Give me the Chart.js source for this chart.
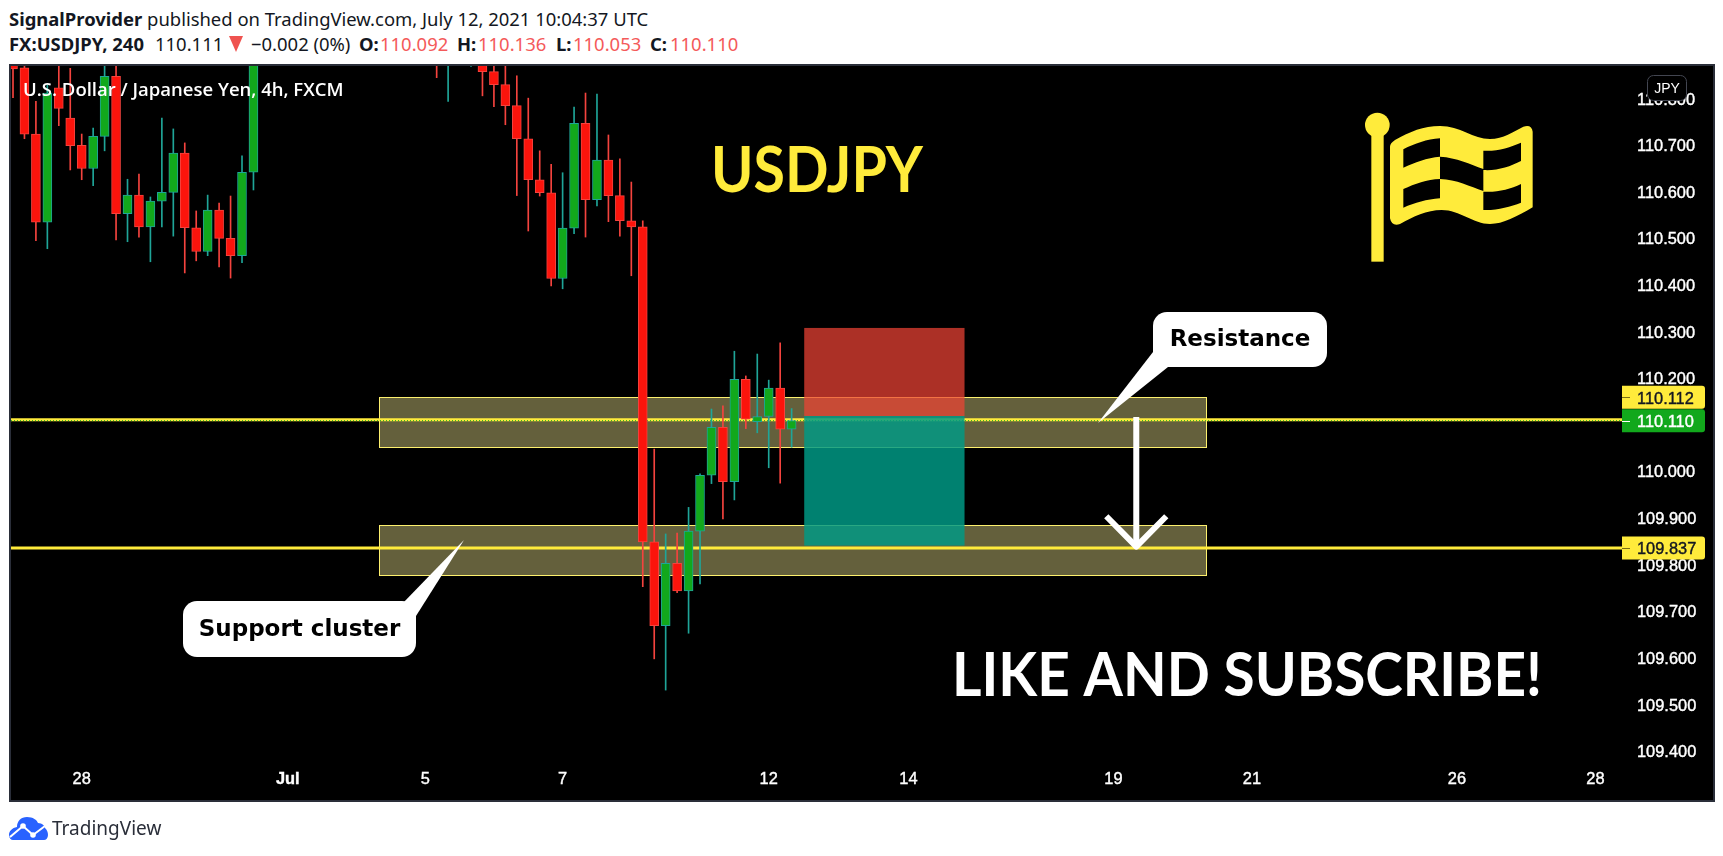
<!DOCTYPE html>
<html>
<head>
<meta charset="utf-8">
<title>USDJPY</title>
<script src="https://cdn.jsdelivr.net/npm/chart.js@4"></script>
<style>
html, body { margin: 0; padding: 0; background: #fff; }
body { width: 1723px; height: 856px; position: relative; overflow: hidden; font-family: "Noto Sans", sans-serif; color: #131722; }
#frame { position: absolute; left: 9px; top: 64px; width: 1702px; height: 734px; background: #000; border: 2px solid #2a2e39; }
#grafico { position: absolute; left: 0; top: 0; }
.riga { position: absolute; left: 9px; font-size: 18.45px; white-space: nowrap; line-height: 24px; }
.riga b { font-weight: 700; }
.t { position: absolute; top: 32px; font-size: 18.45px; line-height: 24px; white-space: nowrap; }
.b { font-weight: 700; }
.rosso { color: #f45a5a; }
#triangolo { position: absolute; left: 229px; top: 36px; width: 0; height: 0; border-left: 7.5px solid transparent; border-right: 7.5px solid transparent; border-top: 16px solid #ef5350; }
#logo { position: absolute; left: 9px; top: 817px; }
#marchio { position: absolute; left: 52px; top: 815px; font-size: 19px; line-height: 26px; color: #2a2e39; }
</style>
</head>
<body>
<div class="riga" style="top:7px"><b>SignalProvider</b> published on TradingView.com, July 12, 2021 10:04:37 UTC</div>
<span class="t b" style="left:9px">FX:USDJPY, 240</span>
<span class="t" style="left:155px">110.111</span>
<span id="triangolo"></span>
<span class="t" style="left:251px">−0.002 (0%)</span>
<span class="t b" style="left:359px">O:</span><span class="t rosso" style="left:380px">110.092</span>
<span class="t b" style="left:457px">H:</span><span class="t rosso" style="left:478px">110.136</span>
<span class="t b" style="left:556px">L:</span><span class="t rosso" style="left:573px">110.053</span>
<span class="t b" style="left:650px">C:</span><span class="t rosso" style="left:670px">110.110</span>
<div id="frame"></div>
<canvas id="grafico" width="1723" height="856"></canvas>
<svg id="logo" width="39" height="23" viewBox="0 0 39 23">
	<path d="M0 18 C0 14 3 11 8 10 C8 4 12 0 18 0 C24 0 28 3 29 6 C33 6 36 9 36 11 C38 13 39 15 39 18 C39 21 37 23 35 23 L4 23 C2 23 0 21 0 18 Z" fill="#2962ff"/>
	<polyline points="1,20 14,9 24,18 36,9" fill="none" stroke="#fff" stroke-width="2"/>
	<circle cx="14" cy="9" r="2.8" fill="#fff"/>
	<circle cx="24" cy="18" r="2.8" fill="#fff"/>
</svg>
<div id="marchio">TradingView</div>

<script>
// indici delle candele visibili (le altre stanno sopra il grafico)
var barIndex = [0,1,2,3,4,5,6,7,8,9,10,11,12,13,14,15,16,17,18,19,20,21,37,38,40,41,42,43,44,45,46,47,48,49,50,51,52,53,54,55,56,57,58,59,60,61,62,63,64,65,66,67,68];
var opens  = [110.900,110.867,110.725,110.536,110.824,110.759,110.701,110.651,110.720,110.849,110.554,110.594,110.526,110.581,110.600,110.684,110.524,110.473,110.562,110.501,110.464,110.643,111.000,110.950,110.950,110.900,110.859,110.831,110.786,110.715,110.627,110.599,110.415,110.523,110.748,110.584,110.669,110.593,110.539,110.526,109.850,109.670,109.804,109.745,109.873,109.993,110.096,109.979,110.199,110.108,110.119,110.180,110.092];
var closes = [110.865,110.725,110.536,110.813,110.780,110.700,110.651,110.720,110.849,110.554,110.594,110.526,110.581,110.600,110.684,110.524,110.473,110.562,110.501,110.464,110.643,110.900,110.950,111.000,111.000,110.859,110.831,110.786,110.715,110.627,110.599,110.415,110.523,110.748,110.584,110.669,110.593,110.539,110.526,109.850,109.670,109.804,109.745,109.873,109.993,110.096,109.979,110.199,110.113,110.119,110.180,110.092,110.110];
var highs  = [110.920,110.873,110.795,110.830,110.880,110.866,110.725,110.738,110.890,110.890,110.628,110.639,110.590,110.759,110.736,110.706,110.560,110.594,110.577,110.592,110.678,110.920,111.020,111.020,111.020,110.950,110.900,110.880,110.850,110.802,110.689,110.660,110.642,110.783,110.813,110.811,110.723,110.672,110.622,110.539,110.049,109.867,109.869,109.924,109.996,110.135,110.142,110.259,110.206,110.253,110.197,110.277,110.136];
var lows   = [110.803,110.715,110.496,110.479,110.743,110.648,110.627,110.614,110.689,110.498,110.494,110.504,110.451,110.526,110.506,110.427,110.453,110.464,110.440,110.416,110.449,110.605,110.846,110.795,110.870,110.807,110.784,110.745,110.593,110.517,110.592,110.399,110.393,110.511,110.504,110.571,110.537,110.506,110.421,109.754,109.599,109.532,109.741,109.654,109.760,109.975,109.899,109.940,110.093,110.084,110.009,109.976,110.053];

var priceTicks = [109.4,109.5,109.6,109.7,109.8,109.9,110.0,110.1,110.2,110.3,110.4,110.5,110.6,110.7,110.8];
var timeTickIndex = [6,24,36,48,66,78.2,96.1,108.2,126.1,138.2];
var timeTickLabels = ['28','Jul','5','7','12','14','19','21','26','28'];

var resistanceLine = 110.112;
var supportLine = 109.837;
var lastPrice = 110.110;
var zones = [[110.160,110.053],[109.886,109.778]];
var zoneFrom = 32.0;
var zoneTo = 104.2;
var boxFrom = 69.1;
var boxTo = 83.1;
var boxTop = 110.309;
var boxEntry = 110.120;
var boxBottom = 109.842;
var arrowIndex = 98.1;
var arrowTop = 110.118;
var arrowBottom = 109.840;
var arrowHead = 109.905;

var xMin = -0.175;
var xMax = 140.52;
var yMin = 109.382;
var yMax = 110.871;

var verde = '#12a81c', rosso = '#fb140c';
var bordoVerde = '#1fa598', bordoRosso = '#f4433e';
var giallo = '#ffeb3b';

// corpi e stoppini
var corpi = [], stoppini = [], coloriCorpo = [], coloriBordo = [];
for (var i = 0; i < barIndex.length; i++) {
	corpi.push({ x: barIndex[i], y: [opens[i], closes[i]] });
	stoppini.push({ x: barIndex[i], y: [lows[i], highs[i]] });
	var su = closes[i] >= opens[i];
	coloriCorpo.push(su ? verde : rosso);
	coloriBordo.push(su ? bordoVerde : bordoRosso);
}

function linea(prezzo, colore, spessore, tratteggio, ordine) {
	return {
		type: 'line',
		data: [{ x: xMin, y: prezzo }, { x: xMax, y: prezzo }],
		borderColor: colore,
		borderWidth: spessore,
		borderDash: tratteggio,
		pointRadius: 0,
		order: ordine
	};
}

function tag(ctx, yc, prezzo, sfondo, testo, segno) {
	ctx.fillStyle = sfondo;
	ctx.beginPath();
	ctx.roundRect(1622, yc - 11.5, 83, 23, [0, 3, 3, 0]);
	ctx.fill();
	ctx.fillStyle = segno;
	ctx.fillRect(1622, Math.round(yc), 8, 1);
	ctx.fillStyle = testo;
	ctx.strokeStyle = testo;
	ctx.lineWidth = 0.4;
	ctx.font = '16.4px "Liberation Sans"';
	ctx.textAlign = 'left';
	ctx.textBaseline = 'middle';
	ctx.fillText(prezzo.toFixed(3), 1637, yc + 2);
	ctx.strokeText(prezzo.toFixed(3), 1637, yc + 2);
}

function bandiera(ctx) {
	ctx.save();
	ctx.translate(1340, 90);
	ctx.scale(1 / 3, 1 / 3);
	ctx.fillStyle = '#ffeb3b';
	ctx.beginPath();
	ctx.arc(112, 105, 37, 0, Math.PI * 2);
	ctx.fill();
	ctx.fillRect(94, 120, 37, 395);
	var p = new Path2D('M150 170 Q150 160 165 150 C210 125 250 108 300 108 C360 108 400 147 450 147 C490 147 520 125 550 110 Q575 102 578 125 L578 352 C530 380 490 402 450 402 C400 402 360 360 305 360 C260 360 220 380 180 402 Q155 410 150 385 Z' +
		'M190 178 C225 160 260 148 300 145 L300 200 C260 203 225 217 190 233 Z' +
		'M190 297 C225 282 260 268 300 267 L300 325 C260 328 225 338 190 353 Z' +
		'M300 200 C350 203 390 222 430 237 L430 303 C390 290 350 268 300 267 Z' +
		'M430 182 C470 185 510 172 543 158 L543 213 C510 230 470 243 430 240 Z' +
		'M430 305 C470 308 510 298 543 282 L543 338 C510 350 470 362 430 360 Z');
	ctx.fill(p, 'evenodd');
	ctx.restore();
}

function fumetto(ctx, x, y, w, h, punte, testo) {
	ctx.fillStyle = '#fff';
	ctx.beginPath();
	ctx.roundRect(x, y, w, h, 14);
	ctx.fill();
	ctx.beginPath();
	ctx.moveTo(punte[0][0], punte[0][1]);
	ctx.lineTo(punte[1][0], punte[1][1]);
	ctx.lineTo(punte[2][0], punte[2][1]);
	ctx.closePath();
	ctx.fill();
	ctx.fillStyle = '#000';
	ctx.font = 'bold 23px "DejaVu Sans"';
	ctx.textAlign = 'center';
	ctx.textBaseline = 'middle';
	ctx.fillText(testo, x + w / 2, y + h / 2 + 1);
}

var disegni = {
	id: 'disegni',
	beforeDatasetsDraw: function (chart) {
		var ctx = chart.ctx, sx = chart.scales.x, sy = chart.scales.y;
		var x0 = sx.getPixelForValue(zoneFrom), x1 = sx.getPixelForValue(zoneTo);
		ctx.save();
		zones.forEach(function (z) {
			var y0 = sy.getPixelForValue(z[0]), y1 = sy.getPixelForValue(z[1]);
			ctx.fillStyle = 'rgba(250,240,150,0.4)';
			ctx.fillRect(x0, y0, x1 - x0, y1 - y0);
			ctx.strokeStyle = '#fdf06e';
			ctx.lineWidth = 1;
			ctx.strokeRect(Math.round(x0) + 0.5, Math.round(y0) + 0.5, Math.round(x1 - x0), Math.round(y1 - y0));
		});
		ctx.restore();
	},
	afterDatasetsDraw: function (chart) {
		var ctx = chart.ctx, sx = chart.scales.x, sy = chart.scales.y;
		ctx.save();
		// box sopra le linee
		var bx0 = sx.getPixelForValue(boxFrom), bx1 = sx.getPixelForValue(boxTo);
		var bt = sy.getPixelForValue(boxTop), be = sy.getPixelForValue(boxEntry), bb = sy.getPixelForValue(boxBottom);
		ctx.fillStyle = 'rgba(239,67,53,0.72)';
		ctx.fillRect(bx0, bt, bx1 - bx0, be - bt);
		ctx.fillStyle = 'rgba(0,154,134,0.84)';
		ctx.fillRect(bx0, be, bx1 - bx0, bb - be);
		ctx.restore();
	},
	afterDraw: function (chart) {
		var ctx = chart.ctx, sx = chart.scales.x, sy = chart.scales.y;
		ctx.save();

		// freccia
		var ax = sx.getPixelForValue(arrowIndex);
		var ay0 = sy.getPixelForValue(arrowTop), ay1 = sy.getPixelForValue(arrowBottom), ah = sy.getPixelForValue(arrowHead);
		ctx.strokeStyle = '#fff';
		ctx.lineWidth = 6;
		ctx.beginPath();
		ctx.moveTo(ax, ay0);
		ctx.lineTo(ax, ay1);
		ctx.stroke();
		ctx.lineJoin = 'round';
		ctx.beginPath();
		ctx.moveTo(ax - 30, ah);
		ctx.lineTo(ax, ay1);
		ctx.lineTo(ax + 30, ah);
		ctx.stroke();

		fumetto(ctx, 1153, 312, 174, 55, [[1098, 423], [1153, 352], [1168, 367]], 'Resistance');
		fumetto(ctx, 183, 601, 233, 56, [[464, 540], [403, 603], [416, 616]], 'Support cluster');

		// scritte
		ctx.textBaseline = 'middle';
		ctx.textAlign = 'left';
		ctx.fillStyle = '#fff';
		ctx.font = '600 18.5px "Open Sans"';
		ctx.fillText('U.S. Dollar / Japanese Yen, 4h, FXCM', 23, 91);

		ctx.fillStyle = giallo;
		ctx.font = 'bold 64px Lato';
		ctx.fillText('USDJPY', 711, 171, 212);

		ctx.fillStyle = '#fff';
		ctx.font = 'bold 61px Lato';
		ctx.fillText('LIKE AND SUBSCRIBE!', 952, 676, 590);

		bandiera(ctx);

		// etichette di prezzo
		tag(ctx, sy.getPixelForValue(resistanceLine) - 22.5, resistanceLine, giallo, '#131722', '#7a6f14');
		tag(ctx, sy.getPixelForValue(lastPrice), lastPrice, verde, '#fff', '#fff');
		tag(ctx, sy.getPixelForValue(supportLine), supportLine, giallo, '#131722', '#7a6f14');

		// bottone valuta
		ctx.fillStyle = '#000';
		ctx.strokeStyle = '#434651';
		ctx.lineWidth = 1;
		ctx.beginPath();
		ctx.roundRect(1647.5, 75.5, 39, 25, 6);
		ctx.fill();
		ctx.stroke();
		ctx.fillStyle = '#fff';
		ctx.font = '14px "Liberation Sans"';
		ctx.textAlign = 'center';
		ctx.fillText('JPY', 1667, 89);

		ctx.restore();
	}
};

var chart = new Chart(document.getElementById('grafico'), {
	data: {
		datasets: [
			linea(resistanceLine, giallo, 3, [], 5),
			linea(supportLine, giallo, 3, [], 5),
			linea(lastPrice, verde, 1, [1, 2], 4),
			{
				type: 'bar',
				data: stoppini,
				backgroundColor: coloriBordo,
				borderWidth: 0,
				barThickness: 1,
				grouped: false,
				order: 3
			},
			{
				type: 'bar',
				data: corpi,
				backgroundColor: coloriCorpo,
				borderColor: coloriBordo,
				borderWidth: 1,
				borderSkipped: false,
				barThickness: 9,
				grouped: false,
				order: 1
			}
		]
	},
	options: {
		responsive: false,
		animation: false,
		parsing: { xAxisKey: 'x', yAxisKey: 'y' },
		layout: { padding: { left: 11, top: 66, right: 10, bottom: 56 } },
		plugins: { legend: { display: false }, tooltip: { enabled: false } },
		scales: {
			x: {
				type: 'linear',
				offset: false,
				min: xMin,
				max: xMax,
				grid: { display: false, drawTicks: false },
				border: { display: false },
				afterBuildTicks: function (scale) {
					scale.ticks = timeTickIndex.map(function (v) { return { value: v }; });
				},
				afterFit: function (scale) { scale.height = 40; },
				ticks: {
					autoSkip: false,
					maxRotation: 0,
					padding: 10,
					color: '#fff',
					textStrokeColor: '#fff',
					textStrokeWidth: 0.4,
					font: function (c) {
						var bold = c.tick && c.tick.value === 24;
						return { family: 'Liberation Sans', size: 16.4, weight: bold ? 'bold' : 'normal' };
					},
					callback: function (v) { return timeTickLabels[timeTickIndex.indexOf(v)]; }
				}
			},
			y: {
				type: 'linear',
				position: 'right',
				min: yMin,
				max: yMax,
				grid: { display: false, drawTicks: false },
				border: { display: false },
				afterBuildTicks: function (scale) {
					scale.ticks = priceTicks.map(function (v) { return { value: v }; });
				},
				afterFit: function (scale) { scale.width = 91; },
				ticks: {
					autoSkip: false,
					padding: 15,
					labelOffset: 1,
					color: '#fff',
					textStrokeColor: '#fff',
					textStrokeWidth: 0.4,
					font: { family: 'Liberation Sans', size: 16.4 },
					callback: function (v) { return v.toFixed(3); }
				}
			}
		}
	},
	plugins: [disegni]
});
</script>
</body>
</html>
